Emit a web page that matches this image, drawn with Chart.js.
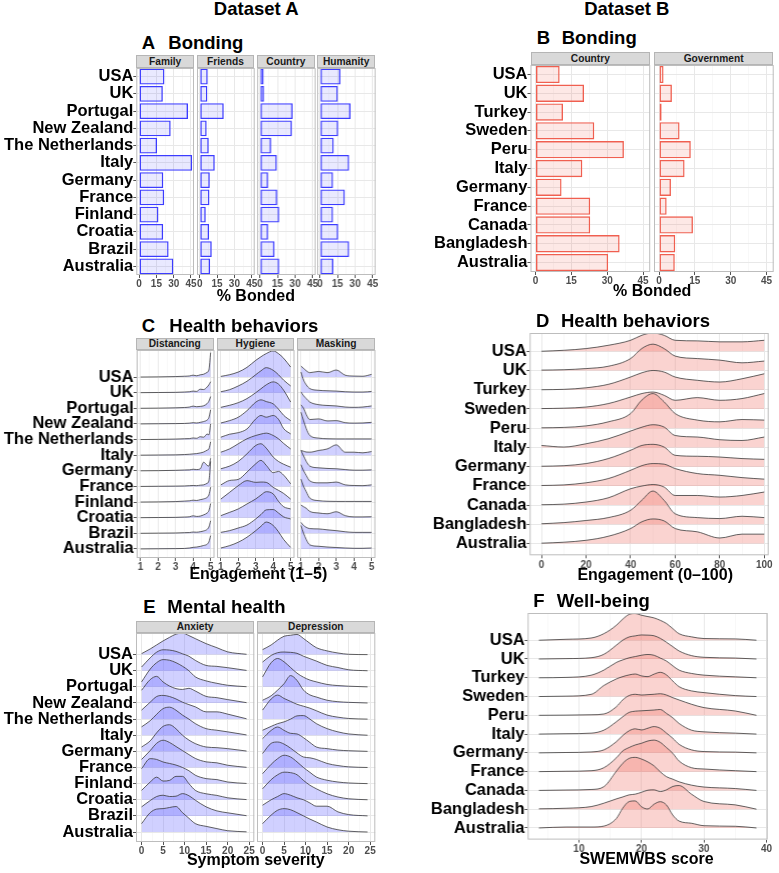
<!DOCTYPE html>
<html lang="en">
<head>
<meta charset="UTF-8">
<title>Bonding, health behaviors and well-being by country</title>
<script src="https://cdn.jsdelivr.net/npm/chart.js@4.4.1/dist/chart.umd.min.js"></script>
<style>
  body { margin:0; background:#fff; font-family:"Liberation Sans", Arial, sans-serif; }
  #fig { position:relative; width:779px; height:873px; overflow:hidden; background:#fff; }
  .box { position:absolute; }
  .txt { position:absolute; font-weight:bold; color:#000; white-space:nowrap; }
  .strip { position:absolute; box-sizing:border-box; background:#d9d9d9; border:1px solid #b5b5b5;
           font-weight:bold; font-size:10.2px; color:#1a1a1a; text-align:center; white-space:nowrap; }
</style>
</head>
<body>
<div id="fig"></div>
<script>
// ---- countries (top to bottom as shown) ----
var countriesA = ['USA','UK','Portugal','New Zealand','The Netherlands','Italy','Germany','France','Finland','Croatia','Brazil','Australia'];
var countriesB = ['USA','UK','Turkey','Sweden','Peru','Italy','Germany','France','Canada','Bangladesh','Australia'];

// ---- % bonded ----
var bondFamily   = [22, 20.6, 42.4, 27.4, 15.6, 46, 21, 21.8, 16.8, 20.9, 25.6, 29.7];
var bondFriends  = [6.9, 6.6, 20.8, 6, 7.8, 13, 8.7, 8.4, 5.2, 8.1, 10.4, 9];
var bondCountryA = [3.2, 3.5, 28, 27.4, 9.6, 14.5, 7, 14.8, 16.5, 7, 12.5, 16.5];
var bondHumanity = [17.6, 15.3, 26.2, 15.6, 11.8, 25, 11.2, 21.3, 11.2, 15.6, 25, 11.5];
var bondCountryB = [10.1, 20.3, 11.5, 24.6, 37, 19.6, 10.9, 22.9, 22.9, 35.2, 30.4];
var bondGovernment = [1.9, 5.4, 1.1, 8.6, 13.3, 10.7, 5, 3.2, 14.2, 6.8, 6.6];

// ---- tick labels ----
var ticksBond = [0, 15, 30, 45];
var ticksEng5 = [1, 2, 3, 4, 5];
var ticksEng100 = [0, 20, 40, 60, 80, 100];
var ticksSeverity = [0, 5, 10, 15, 20, 25];
var ticksSwem = [10, 20, 30, 40];

// ---- ridge heights (density, in row units), one row per country ----
var distX = [1, 2, 3, 3.5, 3.8, 4, 4.2, 4.4, 4.6, 4.8, 4.9, 5];
var distancing = [
  [0, 0.01, 0.03, 0.05, 0.07, 0.12, 0.08, 0.14, 0.18, 0.3, 0.45, 1.56],
  [0, 0.01, 0.02, 0.04, 0.06, 0.1, 0.08, 0.22, 0.2, 0.36, 0.5, 0.7],
  [0, 0.01, 0.03, 0.05, 0.08, 0.14, 0.1, 0.12, 0.16, 0.3, 0.45, 0.75],
  [0, 0.01, 0.02, 0.03, 0.05, 0.08, 0.06, 0.1, 0.15, 0.25, 0.4, 0.9],
  [0, 0.01, 0.03, 0.05, 0.06, 0.1, 0.08, 0.18, 0.15, 0.35, 0.3, 1.0],
  [0, 0.01, 0.02, 0.04, 0.06, 0.08, 0.1, 0.14, 0.2, 0.32, 0.4, 0.85],
  [0, 0.01, 0.03, 0.05, 0.06, 0.1, 0.08, 0.12, 0.55, 0.35, 0.3, 0.8],
  [0, 0.01, 0.02, 0.03, 0.05, 0.06, 0.05, 0.08, 0.1, 0.2, 0.35, 1.6],
  [0, 0.01, 0.03, 0.06, 0.08, 0.12, 0.1, 0.15, 0.2, 0.3, 0.45, 0.95],
  [0, 0.01, 0.02, 0.04, 0.06, 0.12, 0.08, 0.1, 0.18, 0.3, 0.45, 0.9],
  [0, 0.01, 0.02, 0.04, 0.05, 0.08, 0.07, 0.1, 0.15, 0.25, 0.4, 0.8],
  [0, 0.01, 0.02, 0.03, 0.06, 0.1, 0.12, 0.16, 0.22, 0.3, 0.45, 0.85]
];
var hygX = [1, 1.5, 2, 2.5, 3, 3.3, 3.6, 4, 4.3, 4.6, 5];
var hygiene = [
  [0.04, 0.15, 0.32, 0.62, 1.07, 1.3, 1.5, 1.67, 1.5, 1.2, 0.64],
  [0.06, 0.19, 0.43, 0.73, 1.15, 1.4, 1.6, 1.43, 1.15, 0.8, 0.43],
  [0.06, 0.19, 0.36, 0.62, 1.0, 1.25, 1.5, 1.69, 1.55, 1.15, 0.4],
  [0.06, 0.21, 0.43, 0.85, 1.39, 1.54, 1.43, 1.28, 0.95, 0.55, 0.21],
  [0.15, 0.34, 0.44, 0.68, 1.32, 1.54, 1.43, 1.54, 1.3, 0.7, 0.36],
  [0.19, 0.4, 0.73, 1.05, 1.26, 1.35, 1.41, 1.26, 1.05, 0.75, 0.4],
  [0.13, 0.3, 0.6, 1.09, 1.62, 1.73, 1.45, 0.88, 0.6, 0.42, 0.23],
  [0.1, 0.38, 0.45, 0.92, 1.45, 1.67, 1.35, 0.88, 0.96, 0.72, 0.17],
  [0.19, 0.62, 1.05, 1.37, 1.26, 1.28, 1.26, 0.94, 0.75, 0.55, 0.19],
  [0.13, 0.34, 0.56, 0.88, 1.2, 1.45, 1.66, 1.52, 1.05, 0.7, 0.56],
  [0.06, 0.17, 0.34, 0.53, 0.92, 1.2, 1.5, 1.52, 1.3, 1.05, 0.92],
  [0.06, 0.21, 0.43, 0.75, 1.17, 1.45, 1.72, 1.5, 1.1, 0.6, 0.1]
];
var maskX = [1, 1.15, 1.3, 1.5, 2, 2.5, 3, 3.5, 4, 4.5, 5];
var masking = [
  [0.7, 0.55, 0.4, 0.28, 0.36, 0.28, 0.45, 0.12, 0.06, 0.05, 0.17],
  [1.32, 0.8, 0.5, 0.26, 0.15, 0.12, 0.1, 0.06, 0.04, 0.04, 0.08],
  [1.05, 0.8, 0.62, 0.4, 0.23, 0.18, 0.15, 0.08, 0.06, 0.08, 0.15],
  [1.22, 1.0, 0.6, 0.28, 0.32, 0.19, 0.21, 0.08, 0.05, 0.06, 0.1],
  [1.75, 1.2, 0.7, 0.26, 0.09, 0.05, 0.04, 0.04, 0.04, 0.04, 0.04],
  [0.3, 0.25, 0.2, 0.19, 0.3, 0.4, 0.66, 0.19, 0.19, 0.15, 0.23],
  [1.3, 0.95, 0.6, 0.3, 0.19, 0.15, 0.13, 0.08, 0.04, 0.04, 0.06],
  [1.39, 1.0, 0.7, 0.35, 0.23, 0.23, 0.28, 0.1, 0.06, 0.05, 0.1],
  [1.47, 1.0, 0.66, 0.25, 0.09, 0.05, 0.04, 0.04, 0.04, 0.04, 0.04],
  [0.81, 0.7, 0.6, 0.4, 0.3, 0.25, 0.38, 0.13, 0.05, 0.05, 0.06],
  [0.7, 0.5, 0.38, 0.3, 0.28, 0.22, 0.17, 0.1, 0.06, 0.06, 0.06],
  [1.5, 1.0, 0.6, 0.26, 0.17, 0.12, 0.09, 0.06, 0.04, 0.04, 0.06]
];
var engX = [0, 10, 20, 30, 40, 45, 50, 55, 60, 70, 80, 90, 100];
var engagementB = [
  [0, 0.05, 0.14, 0.31, 0.57, 0.83, 0.95, 0.83, 0.57, 0.54, 0.49, 0.49, 0.57],
  [0.02, 0.04, 0.1, 0.22, 0.62, 1.14, 1.37, 1.14, 0.75, 0.62, 0.54, 0.4, 0.49],
  [0, 0.02, 0.1, 0.28, 0.66, 0.88, 1.0, 0.92, 0.66, 0.49, 0.4, 0.57, 0.83],
  [0.02, 0.04, 0.1, 0.28, 0.62, 0.8, 0.88, 0.71, 0.45, 0.59, 0.45, 0.54, 0.8],
  [0.02, 0.04, 0.12, 0.33, 0.76, 1.46, 1.8, 1.37, 0.76, 0.42, 0.33, 0.45, 0.42],
  [0.1, 0.02, 0.19, 0.45, 0.85, 1.05, 1.18, 1.06, 0.62, 0.54, 0.4, 0.36, 0.54],
  [0.02, 0.05, 0.16, 0.42, 0.85, 1.1, 1.16, 1.02, 0.59, 0.54, 0.5, 0.42, 0.38],
  [0.02, 0.05, 0.16, 0.38, 0.81, 1.05, 1.16, 1.13, 0.9, 0.64, 0.55, 0.43, 0.35],
  [0.02, 0.05, 0.16, 0.38, 0.85, 0.99, 1.07, 0.94, 0.5, 0.5, 0.42, 0.5, 0.68],
  [0.03, 0.09, 0.2, 0.35, 0.73, 1.25, 1.73, 1.25, 0.55, 0.35, 0.3, 0.42, 0.35],
  [0.02, 0.07, 0.17, 0.38, 0.78, 1.13, 1.28, 1.18, 0.78, 0.61, 0.29, 0.49, 0.49]
];
var sevX = [0, 2, 3.5, 5, 6.5, 8, 9.5, 11, 12.5, 15, 17.5, 20, 24.4];
var anxiety = [
  [0.06, 0.35, 0.6, 0.85, 1.07, 1.27, 1.33, 1.18, 0.99, 0.68, 0.43, 0.17, 0.02],
  [0.23, 0.8, 1.15, 1.3, 1.28, 1.2, 1.05, 0.9, 0.64, 0.33, 0.27, 0.19, 0.02],
  [0.31, 1.1, 1.5, 1.69, 1.65, 1.5, 1.28, 1.0, 0.62, 0.37, 0.22, 0.1, 0.01],
  [0.79, 1.45, 1.65, 1.3, 1.05, 0.89, 0.84, 0.91, 0.74, 0.41, 0.33, 0.21, 0.02],
  [0.56, 1.05, 1.4, 1.47, 1.4, 1.25, 1.05, 0.9, 0.76, 0.45, 0.45, 0.31, 0.02],
  [0.52, 0.9, 1.3, 1.65, 1.74, 1.55, 1.25, 1.0, 0.72, 0.41, 0.31, 0.21, 0.02],
  [0.27, 0.65, 1.15, 1.55, 1.65, 1.4, 1.0, 0.7, 0.48, 0.27, 0.23, 0.17, 0.02],
  [0.5, 1.05, 1.5, 1.69, 1.55, 1.3, 1.05, 0.8, 0.56, 0.35, 0.29, 0.14, 0.01],
  [0.93, 1.55, 1.5, 1.34, 1.25, 1.15, 1.0, 0.8, 0.52, 0.31, 0.25, 0.1, 0.01],
  [0.58, 1.1, 1.4, 1.16, 1.2, 1.45, 1.45, 1.0, 0.58, 0.37, 0.27, 0.12, 0.01],
  [0.56, 0.95, 1.2, 1.28, 1.2, 1.22, 1.38, 1.25, 0.97, 0.56, 0.31, 0.19, 0.01],
  [0.52, 1.2, 1.42, 1.45, 1.52, 1.58, 1.2, 0.85, 0.52, 0.35, 0.21, 0.08, 0.01]
];
var depression = [
  [0.31, 0.6, 0.9, 1.14, 1.2, 1.25, 1.0, 0.7, 0.43, 0.23, 0.1, 0.02, 0],
  [0.54, 0.95, 1.12, 1.16, 1.14, 1.08, 0.9, 0.75, 0.6, 0.33, 0.2, 0.06, 0],
  [0.62, 1.5, 1.76, 1.55, 1.2, 0.85, 0.6, 0.42, 0.31, 0.15, 0.08, 0.04, 0],
  [0.17, 0.45, 0.8, 1.2, 1.7, 1.4, 0.8, 0.5, 0.37, 0.17, 0.08, 0.04, 0],
  [0.56, 1.25, 1.49, 1.28, 1.1, 0.92, 0.8, 0.68, 0.52, 0.25, 0.12, 0.04, 0],
  [0.31, 0.55, 0.72, 0.83, 1.0, 1.2, 1.22, 1.0, 0.72, 0.41, 0.21, 0.08, 0],
  [0.79, 1.3, 1.51, 1.3, 1.12, 1.08, 0.85, 0.55, 0.27, 0.17, 0.08, 0.04, 0],
  [0.87, 1.5, 1.58, 1.45, 1.2, 0.9, 0.65, 0.6, 0.5, 0.25, 0.12, 0.04, 0],
  [0.62, 1.2, 1.55, 1.76, 1.65, 1.35, 1.0, 0.7, 0.41, 0.21, 0.1, 0.04, 0],
  [0.68, 1.25, 1.55, 1.71, 1.68, 1.55, 1.2, 0.9, 0.68, 0.37, 0.17, 0.06, 0],
  [0.66, 1.0, 1.2, 1.38, 1.28, 1.12, 1.0, 0.8, 0.6, 0.6, 0.25, 0.08, 0],
  [0.52, 1.05, 1.35, 1.45, 1.38, 1.2, 1.0, 0.8, 0.62, 0.31, 0.14, 0.05, 0]
];
var swemX = [3.6, 8, 12, 14, 16, 17, 18, 19, 20, 21, 22, 23, 24, 25, 26, 28, 30, 35, 38.4];
var wellbeing = [
  [0, 0.05, 0.12, 0.35, 0.8, 1.12, 1.37, 1.42, 1.33, 1.26, 1.19, 1.06, 0.89, 0.62, 0.35, 0.18, 0.09, 0.07, 0],
  [0, 0.02, 0.07, 0.25, 0.74, 1.0, 1.17, 1.23, 1.28, 1.27, 1.24, 1.1, 0.89, 0.66, 0.43, 0.18, 0.09, 0.05, 0],
  [0, 0.02, 0.14, 0.41, 0.82, 0.95, 1.06, 1.13, 1.2, 1.24, 1.2, 1.05, 0.89, 0.64, 0.41, 0.23, 0.14, 0.05, 0],
  [0, 0.02, 0.12, 0.59, 0.94, 1.06, 1.15, 1.2, 1.1, 1.06, 1.19, 1.29, 1.15, 0.83, 0.53, 0.3, 0.21, 0.05, 0],
  [0, 0.01, 0.03, 0.07, 0.46, 0.82, 1.05, 1.12, 1.08, 1.1, 1.12, 1.15, 1.08, 0.94, 0.82, 0.59, 0.41, 0.23, 0],
  [0, 0.02, 0.05, 0.21, 0.66, 0.92, 1.15, 1.22, 1.24, 1.26, 1.28, 1.31, 1.1, 0.87, 0.57, 0.21, 0.12, 0.05, 0],
  [0, 0.02, 0.05, 0.16, 0.6, 0.92, 1.17, 1.28, 1.22, 1.31, 1.4, 1.31, 1.05, 0.78, 0.46, 0.16, 0.07, 0.04, 0],
  [0, 0.02, 0.05, 0.21, 0.74, 1.1, 1.28, 1.42, 1.51, 1.63, 1.68, 1.56, 1.28, 0.98, 0.57, 0.21, 0.14, 0.05, 0],
  [0, 0.02, 0.05, 0.2, 1.03, 1.44, 1.7, 1.76, 1.67, 1.52, 1.31, 0.99, 0.73, 0.6, 0.46, 0.28, 0.18, 0.1, 0],
  [0.02, 0.05, 0.14, 0.32, 0.55, 0.65, 0.76, 0.8, 0.9, 1.01, 1.03, 0.94, 1.03, 1.21, 1.26, 0.8, 0.41, 0.23, 0],
  [0, 0.05, 0.05, 0.1, 0.51, 1.05, 1.4, 1.44, 1.13, 1.01, 1.26, 1.4, 1.22, 0.69, 0.37, 0.25, 0.12, 0.09, 0]
];

var blueLine = 'rgb(60,60,255)', blueFill = 'rgba(70,70,255,0.12)';
var redLine = 'rgb(240,95,80)', redFill = 'rgba(240,95,80,0.14)';
var blueRidge = 'rgba(100,100,255,0.3)', redRidge = 'rgba(240,110,100,0.3)';
var PAD = 12;   // room round each plot so labels never push the chart area

Chart.defaults.font.family = '"Liberation Sans", Arial, sans-serif';
Chart.defaults.animation = false;
Chart.defaults.plugins.legend.display = false;
Chart.defaults.plugins.tooltip.enabled = false;

var fig = document.getElementById('fig');

// grey panel border like ggplot facets
var frame = {
  id: 'frame',
  afterDraw: function (c) {
    var a = c.chartArea, x = c.ctx;
    x.save();
    x.strokeStyle = '#bdbdbd';
    x.lineWidth = 1;
    x.strokeRect(a.left + 0.5, a.top + 0.5, a.right - a.left - 1, a.bottom - a.top - 1);
    x.restore();
  }
};

function addText(str, x, cy, size, center) {
  var d = document.createElement('div');
  d.className = 'txt';
  d.textContent = str;
  d.style.left = x + 'px';
  d.style.top = (cy - size / 2) + 'px';
  d.style.fontSize = size + 'px';
  d.style.lineHeight = size + 'px';
  if (center) d.style.transform = 'translateX(-50%)';
  fig.appendChild(d);
}

function addStrip(str, left, top, w, h) {
  var d = document.createElement('div');
  d.className = 'strip';
  d.textContent = str;
  d.style.cssText += 'left:' + left + 'px;top:' + top + 'px;width:' + w + 'px;height:' + h + 'px;line-height:' + (h - 2) + 'px';
  fig.appendChild(d);
}

// canvas for a plot area (left, top, w, h) with yW of label room at its left and 16px of ticks below
function addCanvas(left, top, w, h, yW) {
  var d = document.createElement('div');
  d.className = 'box';
  d.style.cssText = 'left:' + (left - yW - PAD) + 'px;top:' + (top - PAD) + 'px;width:' + (w + yW + 2 * PAD) +
    'px;height:' + (h + 16 + 2 * PAD) + 'px';
  var cv = document.createElement('canvas');
  d.appendChild(cv);
  fig.appendChild(d);
  return cv;
}

function minorOf(major, min, max) {
  var step = major[1] - major[0], out = [];
  for (var i = -1; i < major.length; i++) {
    var v = i < 0 ? major[0] - step / 2 : major[i] + step / 2;
    if (v > min && v < max) out.push(v);
  }
  return out;
}

function xAxis(major, min, max) {
  var all = major.concat(minorOf(major, min, max)).filter(function (v) { return v >= min && v <= max; });
  all.sort(function (a, b) { return a - b; });
  var isMajor = function (v) { return major.indexOf(v) >= 0; };
  return {
    type: 'linear', min: min, max: max,
    afterBuildTicks: function (s) { s.ticks = all.map(function (v) { return { value: v }; }); },
    afterFit: function (s) { s.height = 16; },
    border: { display: false },
    grid: {
      color: function (c) { return isMajor(c.tick.value) ? '#e8e8e8' : '#f4f4f4'; },
      lineWidth: function (c) { return isMajor(c.tick.value) ? 1 : 0.6; },
      tickLength: 3,
      tickColor: function (c) { return isMajor(c.tick.value) ? '#555' : 'rgba(0,0,0,0)'; }
    },
    ticks: {
      autoSkip: false, maxRotation: 0, padding: 0.5, color: '#4d4d4d',
      font: { size: 10, weight: 'bold' },
      callback: function (v) { return isMajor(v) ? v : ''; }
    }
  };
}

function bars(cv, names, vals, yW, line, fill, min, max) {
  new Chart(cv, {
    type: 'bar',
    data: { labels: names, datasets: [{ data: vals, backgroundColor: fill, borderColor: line, borderWidth: 1.4,
      borderSkipped: false, barPercentage: 0.92, categoryPercentage: 1 }] },
    options: {
      indexAxis: 'y', responsive: true, maintainAspectRatio: false,
      layout: { padding: PAD, autoPadding: false },
      scales: {
        x: xAxis(ticksBond, min, max),
        y: {
          type: 'category', offset: true,
          afterFit: function (s) { s.width = yW; },
          border: { display: false },
          grid: { offset: false, color: '#e8e8e8', drawTicks: yW > 0, tickLength: 3, tickColor: '#555' },
          ticks: { display: yW > 0, autoSkip: false, padding: 0, color: '#000', font: { size: 16.5, weight: 'bold' } }
        }
      }
    },
    plugins: [frame]
  });
}

function ridge(cv, xs, rows, names, xmajor, xmin, xmax, ymin, ymax, yW, fill) {
  var n = names.length;
  var sets = rows.map(function (h, i) {
    var base = n - 1 - i;
    return {
      data: xs.map(function (x, j) { return { x: x, y: base + h[j] }; }),
      fill: { value: base }, backgroundColor: fill,
      borderColor: '#3a3a3a', borderWidth: 0.8, pointRadius: 0,
      cubicInterpolationMode: 'monotone', order: base
    };
  });
  new Chart(cv, {
    type: 'line',
    data: { datasets: sets },
    options: {
      responsive: true, maintainAspectRatio: false,
      layout: { padding: PAD, autoPadding: false },
      scales: {
        x: xAxis(xmajor, xmin, xmax),
        y: {
          type: 'linear', min: ymin, max: ymax,
          afterBuildTicks: function (s) { s.ticks = names.map(function (_, i) { return { value: i }; }); },
          afterFit: function (s) { s.width = yW; },
          border: { display: false },
          grid: { color: '#e8e8e8', drawTicks: yW > 0, tickLength: 3, tickColor: '#555' },
          ticks: { display: yW > 0, autoSkip: false, padding: 0, color: '#000', font: { size: 16.5, weight: 'bold' },
            callback: function (v) { return names[n - 1 - v]; } }
        }
      }
    },
    plugins: [frame]
  });
}

// ---- A: bonding, dataset A ----
var aSets = [bondFamily, bondFriends, bondCountryA, bondHumanity];
['Family', 'Friends', 'Country', 'Humanity'].forEach(function (f, i) {
  var left = 136.3 + i * 60.35, w = 57.7;
  addStrip(f, left, 54.5, w, 13.5);
  var yW = i === 0 ? left : 0;
  bars(addCanvas(left, 68, w, 207, yW), countriesA, aSets[i], yW, blueLine, blueFill, -2.4, 47.6);
});

// ---- B: bonding, dataset B ----
var bSets = [bondCountryB, bondGovernment];
['Country', 'Government'].forEach(function (f, i) {
  var left = i === 0 ? 530.5 : 653.8, w = 119.7;
  addStrip(f, left, 51.5, w, 13.5);
  var yW = i === 0 ? 140.5 : 0;
  bars(addCanvas(left, 65, w, 207, yW), countriesB, bSets[i], yW, redLine, redFill, -2.1, 48);
});

// ---- C: health behaviors, dataset A ----
var cX = [distX, hygX, maskX], cRows = [distancing, hygiene, masking];
['Distancing', 'Hygiene', 'Masking'].forEach(function (f, i) {
  var left = [136, 216.7, 297.3][i], w = 77.5;
  addStrip(f, left, 337.5, w, 12.5);
  var yW = i === 0 ? left : 0;
  ridge(addCanvas(left, 350, w, 208, yW), cX[i], cRows[i], countriesA, ticksEng5, 0.78, 5.22, -0.58, 12.73, yW, blueRidge);
});

// ---- D: health behaviors, dataset B ----
ridge(addCanvas(529.3, 332.7, 238.4, 222.3, 129.3), engX, engagementB, countriesB, ticksEng100, -5.3, 102, -0.61, 10.95, 129.3, redRidge);

// ---- E: mental health, dataset A ----
var eRows = [anxiety, depression];
['Anxiety', 'Depression'].forEach(function (f, i) {
  var left = [136, 256.7][i], w = 118.3;
  addStrip(f, left, 620.5, w, 12.2);
  var yW = i === 0 ? left : 0;
  ridge(addCanvas(left, 632.7, w, 209, yW), sevX, eRows[i], countriesA, ticksSeverity, -1.3, 26.2, -0.62, 12.34, yW, blueRidge);
});

// ---- F: well-being, dataset B ----
ridge(addCanvas(527.3, 612.7, 239.4, 226.6, 127.3), swemX, wellbeing, countriesB, ticksSwem, 1.8, 40.2, -0.62, 11.45, 127.3, redRidge);

// ---- titles ----
addText('Dataset A', 256.2, 9.3, 18.5, true);
addText('Dataset B', 626.8, 9.5, 18.5, true);
addText('A', 141.7, 43, 18.5); addText('Bonding', 168.3, 43, 18.5);
addText('B', 536.7, 38.7, 18.5); addText('Bonding', 561.7, 38.7, 18.5);
addText('C', 141.7, 325.8, 18.5); addText('Health behaviors', 169.3, 325.8, 18.5);
addText('D', 536, 320.8, 18.5); addText('Health behaviors', 561, 320.8, 18.5);
addText('E', 143.3, 607.5, 18.5); addText('Mental health', 167.3, 607.5, 18.5);
addText('F', 533.3, 601, 18.5); addText('Well-being', 556.7, 601, 18.5);
addText('% Bonded', 255.8, 296, 16, true);
addText('% Bonded', 652.2, 291.3, 16, true);
addText('Engagement (1\u20135)', 258.3, 573.7, 16, true);
addText('Engagement (0\u2013100)', 655.2, 574.7, 16, true);
addText('Symptom severity', 255.8, 859.7, 16, true);
addText('SWEMWBS score', 646.5, 859, 16, true);
</script>
</body>
</html>
